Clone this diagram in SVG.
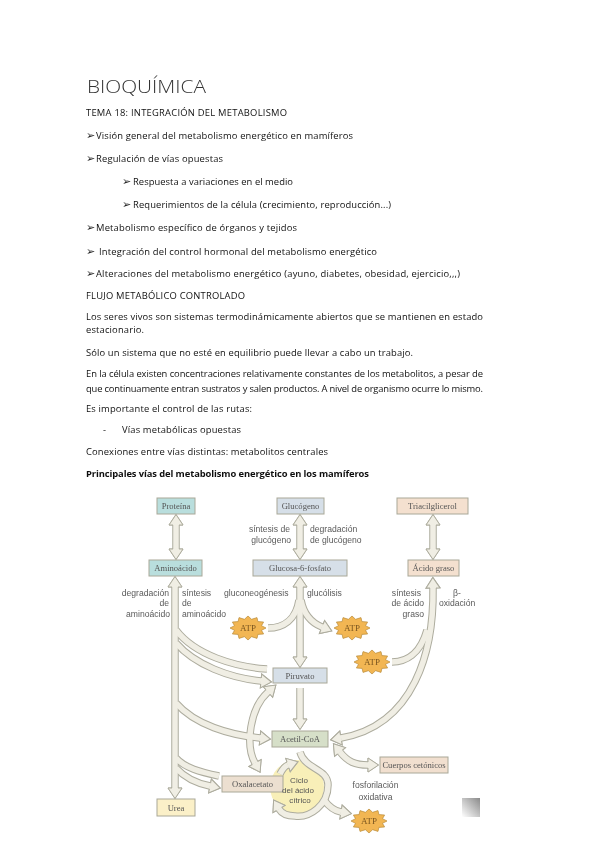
<svg xmlns="http://www.w3.org/2000/svg" width="599" height="848" viewBox="0 0 599 848">
<style>
.p{font-family:"Open Sans","Liberation Sans",sans-serif;font-size:9.4px;fill:#111}
.b{font-weight:700}
.g{font-family:"DejaVu Sans",sans-serif;font-size:11px;fill:#222}
.l{font-family:"Liberation Sans",sans-serif;font-size:8.6px;fill:#5a5a5a}
.n{font-family:"Liberation Serif",serif;font-size:8.6px;fill:#555;text-anchor:middle}
.c{font-family:"Liberation Sans",sans-serif;font-size:8px;fill:#555;text-anchor:middle}
.m{text-anchor:middle}.e{text-anchor:end}
.r{stroke:#a9a898;stroke-width:1}
.s{fill:#f2b652;stroke:#b88b3c;stroke-width:.7}
.t{font-family:"Liberation Serif",serif;font-size:9px;fill:#7a5520;text-anchor:middle}
#lines path{fill:none}
</style>
<defs>
<marker id="h" viewBox="-2 -9 15 18" markerWidth="15" markerHeight="18" refX="0" refY="0" markerUnits="userSpaceOnUse" orient="auto-start-reverse">
<path d="M0,3L0,7L10.500,0L0,-7L0,-3" fill="#f0eee4" stroke="#adac9e" stroke-width="1"/>
</marker>
<polygon id="star" points="18,0 13.5,2.3 15.6,6 9.9,6.4 9,10.4 3.6,8.7 0,12 -3.6,8.7 -9,10.4 -9.9,6.4 -15.6,6 -13.5,2.3 -18,0 -13.5,-2.3 -15.6,-6 -9.9,-6.4 -9,-10.4 -3.6,-8.7 0,-12 3.6,-8.7 9,-10.4 9.9,-6.4 15.6,-6 13.5,-2.3"/>
<g id="lines">
<path d="M176,525L176,549" marker-start="url(#h)" marker-end="url(#h)"/>
<path d="M300,525L300,549" marker-start="url(#h)" marker-end="url(#h)"/>
<path d="M433,525L433,549" marker-start="url(#h)" marker-end="url(#h)"/>
<path d="M300,587L300,657" marker-start="url(#h)" marker-end="url(#h)"/>
<path d="M268,628C283,628 296,620 299,600"/>
<path d="M301,600C304,616 312,623 322,627" marker-end="url(#h)"/>
<path d="M175,587L175,788" marker-start="url(#h)" marker-end="url(#h)"/>
<path d="M176,630C195,655 235,667 267,669"/>
<path d="M176,643C195,665 230,678 261,681" marker-end="url(#h)"/>
<path d="M176,703C195,725 230,735 260,738" marker-end="url(#h)"/>
<path d="M176,758C185,768 200,772 219,776"/>
<path d="M176,768C185,778 195,783 210,786" marker-end="url(#h)"/>
<path d="M268,692C250,708 245,745 255,763" marker-start="url(#h)" marker-end="url(#h)"/>
<path d="M300,688L300,719" marker-end="url(#h)"/>
<path d="M433,588C434,650 415,725 341,738" marker-start="url(#h)" marker-end="url(#h)"/>
<path d="M392,662C405,662 420,655 427,630"/>
<path d="M340,752C348,762 355,765 368,765" marker-start="url(#h)" marker-end="url(#h)"/>
<path d="M300,752C305,770 328,768 328,785C328,805 310,818 295,816C288,816 282,814 279,809" marker-end="url(#h)"/>
<path d="M324,800C330,808 335,811 341,812" marker-end="url(#h)"/>
<path d="M280,774C283,768 285,766 288,765" marker-end="url(#h)"/>
</g>
<linearGradient id="sh" x1="1" y1="0" x2="0" y2="1"><stop offset="0" stop-color="#8a8a8a"/><stop offset="1" stop-color="#fff"/></linearGradient>
<filter id="bl" x="-5%" y="-5%" width="110%" height="110%"><feGaussianBlur stdDeviation="0.35"/></filter>
<filter id="bt" x="-5%" y="-5%" width="110%" height="110%"><feGaussianBlur stdDeviation="0.2"/></filter>
</defs>
<rect width="599" height="848" fill="#fff"/>
<g id="page-text" filter="url(#bt)">
<text x="87" y="93" textLength="119" lengthAdjust="spacingAndGlyphs" font-family="Open Sans" font-weight="300" font-size="19" fill="#333">BIOQUÍMICA</text>
<text class="p" x="86" y="115.5" textLength="201">TEMA 18: INTEGRACIÓN DEL METABOLISMO</text>
<text class="g" x="86" y="139">➢</text><text class="p" x="96" y="139" textLength="257">Visión general del metabolismo energético en mamíferos</text>
<text class="g" x="86" y="162">➢</text><text class="p" x="96" y="162" textLength="127">Regulación de vías opuestas</text>
<text class="g" x="122" y="185">➢</text><text class="p" x="133" y="185" textLength="160">Respuesta a variaciones en el medio</text>
<text class="g" x="122" y="208">➢</text><text class="p" x="133" y="208" textLength="258">Requerimientos de la célula (crecimiento, reproducción...)</text>
<text class="g" x="86" y="231">➢</text><text class="p" x="96" y="231" textLength="201">Metabolismo específico de órganos y tejidos</text>
<text class="g" x="86" y="255">➢</text><text class="p" x="99" y="255" textLength="278">Integración del control hormonal del metabolismo energético</text>
<text class="g" x="86" y="277">➢</text><text class="p" x="96" y="277" textLength="364">Alteraciones del metabolismo energético (ayuno, diabetes, obesidad, ejercicio,,,)</text>
<text class="p" x="86" y="299" textLength="159">FLUJO METABÓLICO CONTROLADO</text>
<text class="p" x="86" y="320" textLength="397">Los seres vivos son sistemas termodinámicamente abiertos que se mantienen en estado</text>
<text class="p" x="86" y="333" textLength="58">estacionario.</text>
<text class="p" x="86" y="356" textLength="327">Sólo un sistema que no esté en equilibrio puede llevar a cabo un trabajo.</text>
<text class="p" x="86" y="376.5" textLength="397">En la célula existen concentraciones relativamente constantes de los metabolitos, a pesar de</text>
<text class="p" x="86" y="392" textLength="397">que continuamente entran sustratos y salen productos.  A nivel de organismo ocurre lo mismo.</text>
<text class="p" x="86" y="412" textLength="166">Es importante el control de las rutas:</text>
<text class="p" x="103" y="433">-</text><text class="p" x="122" y="433" textLength="119">Vías metabólicas opuestas</text>
<text class="p" x="86" y="455" textLength="242">Conexiones entre vías distintas: metabolitos centrales</text>
<text class="p b" x="86" y="477" textLength="283">Principales vías del metabolismo energético en los mamíferos</text>
</g>
<g id="diagram" filter="url(#bl)">
<rect x="462" y="798" width="18" height="19" fill="url(#sh)"/>
<circle id="ciclo-fondo" cx="297" cy="787" r="27" fill="#f8efb8"/>
<g id="connectors">
<use href="#lines" stroke="#adac9e" stroke-width="7.5"/>
<use href="#lines" stroke="#f0eee4" stroke-width="5.5"/>
</g>
<g id="proteina"><rect class="r" x="157" y="498" width="38" height="16" fill="#b9dedd"/><text class="n" x="176" y="509">Proteína</text></g>
<g id="glucogeno"><rect class="r" x="277" y="498" width="47" height="16" fill="#d6dfe8"/><text class="n" x="300.500" y="509">Glucógeno</text></g>
<g id="triacilglicerol"><rect class="r" x="397" y="498" width="71" height="16" fill="#f4e0cf"/><text class="n" x="432.500" y="509">Triacilglicerol</text></g>
<g id="aminoacido"><rect class="r" x="149" y="560" width="53" height="16" fill="#b9dedd"/><text class="n" x="175.500" y="571">Aminoácido</text></g>
<g id="glucosa-6-fosfato"><rect class="r" x="253" y="560" width="94" height="16" fill="#d6dfe8"/><text class="n" x="300" y="571">Glucosa-6-fosfato</text></g>
<g id="acido-graso"><rect class="r" x="408" y="560" width="51" height="16" fill="#f4e0cf"/><text class="n" x="433.500" y="571">Ácido graso</text></g>
<g id="piruvato"><rect class="r" x="273" y="668" width="54" height="15" fill="#d6dfe8"/><text class="n" x="300" y="679">Piruvato</text></g>
<g id="acetil-coa"><rect class="r" x="272" y="731" width="56" height="16" fill="#d6dfc8"/><text class="n" x="300" y="742">Acetil-CoA</text></g>
<g id="cuerpos-cetonicos"><rect class="r" x="380" y="757" width="68" height="16" fill="#f1dfcf"/><text class="n" x="414" y="768">Cuerpos cetónicos</text></g>
<g id="oxalacetato"><rect class="r" x="222" y="776" width="61" height="16" fill="#ecdfd0"/><text class="n" x="252.500" y="787">Oxalacetato</text></g>
<g id="urea"><rect class="r" x="157" y="799" width="38" height="17" fill="#fbf0c8"/><text class="n" x="176" y="811">Urea</text></g>
<g id="ciclo"><text class="c" x="299" y="783">Ciclo</text><text class="c" x="298" y="793">del ácido</text><text class="c" x="300" y="803">cítrico</text></g>
<g id="atp1"><use href="#star" class="s" x="248" y="628"/><text class="t" x="248" y="631">ATP</text></g>
<g id="atp2"><use href="#star" class="s" x="352" y="628"/><text class="t" x="352" y="631">ATP</text></g>
<g id="atp3"><use href="#star" class="s" x="372" y="662"/><text class="t" x="372" y="665">ATP</text></g>
<g id="atp4"><use href="#star" class="s" x="369" y="821"/><text class="t" x="369" y="824">ATP</text></g>
<g id="labels">
<text class="l e" x="290" y="532">síntesis de</text><text class="l e" x="291" y="543">glucógeno</text>
<text class="l" x="310" y="532">degradación</text><text class="l" x="310" y="543">de glucógeno</text>
<text class="l e" x="169" y="595.500">degradación</text><text class="l e" x="169" y="606">de</text><text class="l e" x="170" y="617">aminoácido</text>
<text class="l" x="182" y="595.500">síntesis</text><text class="l" x="182" y="606">de</text><text class="l" x="182" y="617">aminoácido</text>
<text class="l" x="224" y="595.500">gluconeogénesis</text><text class="l" x="307" y="595.500">glucólisis</text>
<text class="l e" x="421" y="595.500">síntesis</text><text class="l e" x="424" y="606">de ácido</text><text class="l e" x="424" y="617">graso</text>
<text class="l" x="453" y="595.500">β-</text><text class="l" x="439" y="606">oxidación</text>
<text class="l m" x="375.500" y="788">fosforilación</text><text class="l m" x="375.500" y="800">oxidativa</text>
</g>
</g>
</svg>
